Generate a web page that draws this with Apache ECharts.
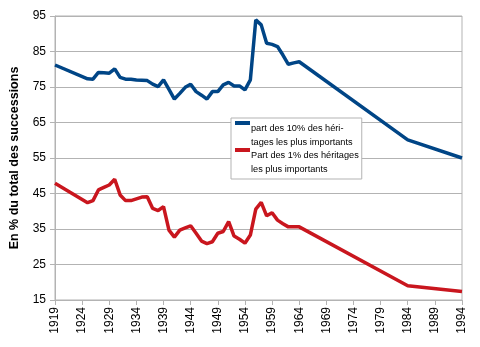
<!DOCTYPE html>
<html>
<head>
<meta charset="utf-8">
<script src="https://cdn.jsdelivr.net/npm/echarts@6/dist/echarts.min.js"></script>
<style>html,body{margin:0;padding:0;background:#fff}#c{width:480px;height:347px}</style>
</head>
<body>
<div id="c"></div>
<script>
var years = [1919,1925,1926,1927,1928,1929,1930,1931,1932,1933,1934,1935,1936,1937,1938,1939,1940,1941,1942,1943,1944,1945,1946,1947,1948,1949,1950,1951,1952,1953,1954,1955,1956,1957,1958,1959,1960,1961,1962,1963,1964,1984,1994];
var top10 = [81.2,77.3,77.2,79.1,79.0,78.9,80.1,77.7,77.2,77.2,77.0,76.9,76.8,75.8,75.1,77.0,74.3,71.6,73.2,74.9,75.8,73.7,72.7,71.6,73.7,73.7,75.6,76.3,75.3,75.3,74.2,77.0,93.9,92.5,87.3,87.0,86.4,84.0,81.4,81.8,82.1,60.1,55.0];
var top1 = [47.9,42.4,43.0,46.0,46.7,47.4,49.0,44.6,43.0,43.0,43.5,44.0,44.1,40.8,40.2,41.3,34.7,32.7,34.7,35.3,35.9,33.8,31.6,30.9,31.4,33.8,34.3,37.1,33.0,32.1,31.0,33.3,40.6,42.5,38.7,39.6,37.5,36.5,35.6,35.6,35.6,19.0,17.4];
var seriesNames = ['part des 10% des héri-\ntages les plus importants', 'Part des 1% des héritages\nles plus importants'];
var yTitle = 'En % du total des successions';

function pairs(v){ return years.map(function(y,i){ return [y, v[i]]; }); }
var chart = echarts.init(document.getElementById('c'));
var font = '"Liberation Sans", Arial, sans-serif';
var grayLine = '#b3b3b3';
chart.setOption({
  animation: false,
  textStyle: { fontFamily: font },
  grid: { left: 54, right: 18, top: 16, bottom: 47, show: true, borderColor: grayLine, borderWidth: 1, containLabel: false },
  legend: {
    orient: 'vertical', left: 231, top: 118,
    padding: [3, 3, 3, 4],
    itemGap: -1,
    itemWidth: 15, itemHeight: 28,
    backgroundColor: '#fff',
    borderColor: grayLine, borderWidth: 1,
    icon: 'path://M0,0L15,0L15,4L0,4Z M0,28',
    textStyle: { fontFamily: font, fontSize: 9.2, color: '#000', lineHeight: 14, padding: [0,0,0,-4] },
    data: seriesNames
  },
  xAxis: {
    type: 'value', min: 1919, max: 1994, interval: 5,
    axisLine: { show: true, lineStyle: { color: grayLine } },
    axisTick: { show: true, length: 5, lineStyle: { color: grayLine } },
    splitLine: { show: false },
    axisLabel: { rotate: 90, color: '#000', fontSize: 12, fontFamily: font, margin: 7, formatter: function(v){ return String(v); } }
  },
  yAxis: {
    type: 'value', min: 15, max: 95, interval: 10,
    name: yTitle, nameLocation: 'middle', nameGap: 34,
    nameTextStyle: { fontFamily: font, fontSize: 12.5, fontWeight: 'bold', color: '#000' },
    axisLine: { show: true, lineStyle: { color: grayLine } },
    axisTick: { show: true, length: 5, lineStyle: { color: grayLine } },
    splitLine: { show: true, lineStyle: { color: grayLine, width: 1 } },
    axisLabel: { color: '#000', fontSize: 12, fontFamily: font, margin: 9 }
  },
  series: [
    { name: seriesNames[0], type: 'line', data: pairs(top10), showSymbol: false, symbol: 'none', color: '#004586', lineStyle: { width: 3.5, color: '#004586' } },
    { name: seriesNames[1], type: 'line', data: pairs(top1), showSymbol: false, symbol: 'none', color: '#c9161e', lineStyle: { width: 3.5, color: '#c9161e' } }
  ]
});
</script>
</body>
</html>
